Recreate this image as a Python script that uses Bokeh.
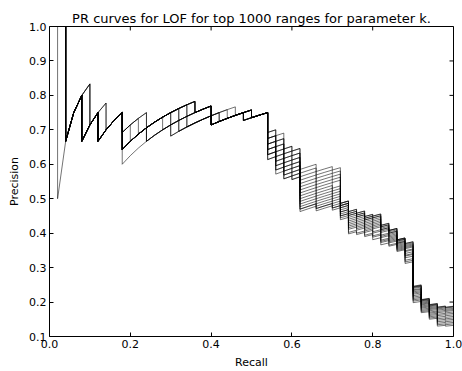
from bokeh.plotting import figure
from bokeh.models import Range1d, FixedTicker
from bokeh.embed import file_html
from bokeh.resources import INLINE

# ---------------- data ----------------
N_POS = 50  # number of true ranges (recall step = 1/50)

# cumulative false positives ranked before the k-th true positive
# early part, k = 1..9
FP_A0 = [0, 0, 1, 1, 2, 2, 3, 3, 3]
FP_A1 = [0, 0, 1, 1, 1, 2, 3, 3, 3]
FP_A2 = [0, 0, 1, 1, 2, 2, 2, 3, 3]
FP_A3 = [0, 1, 1, 1, 2, 2, 3, 3, 3]
# k = 10..18
FP_B0 = [5, 5, 5, 5, 5, 5, 5, 5, 5]
FP_B1 = [4, 4, 5, 5, 5, 5, 5, 5, 5]
FP_B2 = [4, 4, 4, 6, 6, 6, 6, 6, 6]
FP_B3 = [4, 5, 5, 5, 5, 5, 5, 5, 5]
FP_B4 = [6, 6, 6, 6, 6, 6, 6, 6, 6]
FP_B5 = [5, 5, 5, 5, 5, 5, 7, 7, 7]
FP_B6 = [5, 5, 5, 5, 5, 5, 5, 7, 7]
FP_B7 = [5, 5, 5, 5, 5, 5, 5, 5, 7]
FP_B8 = [5, 5, 5, 6, 6, 6, 6, 6, 6]
FP_B9 = [5, 5, 5, 5, 5, 6, 6, 6, 6]
# k = 19..27
FP_C0 = [6, 6, 8, 8, 8, 8, 8, 9, 9]
FP_C1 = [6, 6, 8, 8, 8, 8, 9, 9, 9]
FP_C2 = [7, 7, 7, 7, 7, 8, 8, 9, 9]
FP_C3 = [7, 7, 7, 8, 8, 8, 9, 9, 9]
FP_C4 = [7, 7, 8, 8, 8, 8, 8, 9, 9]
FP_C5 = [6, 6, 7, 7, 8, 8, 8, 9, 9]

A_PATHS = [FP_A0, FP_A1, FP_A2, FP_A3]
B_PATHS = [FP_B0, FP_B1, FP_B2, FP_B3, FP_B4, FP_B5, FP_B6, FP_B7, FP_B8, FP_B9]
C_PATHS = [FP_C0, FP_C1, FP_C2, FP_C3, FP_C4, FP_C5]

# which early path each of the 16 curves (values of k) follows
CURVE_A = [0, 0, 1, 0, 2, 0, 1, 0, 0, 3, 0, 2, 0, 1, 0, 0]
CURVE_B = [0, 1, 2, 5, 6, 0, 7, 3, 2, 4, 5, 8, 6, 9, 7, 0]
CURVE_C = [0, 1, 0, 4, 3, 1, 2, 0, 5, 1, 4, 0, 4, 1, 3, 0]

# later part, one list per k (k = 28..50), one value per curve
FP_K28 = [12, 12, 13, 13, 13, 14, 14, 14, 15, 15, 15, 16, 16, 16, 17, 17]
FP_K29 = [13, 14, 14, 15, 15, 16, 16, 17, 17, 18, 18, 19, 19, 20, 20, 21]
FP_K30 = [16, 16, 17, 17, 18, 18, 19, 19, 20, 20, 21, 21, 22, 22, 23, 23]
FP_K31 = [17, 17, 18, 18, 19, 19, 20, 20, 21, 21, 22, 22, 23, 23, 24, 24]
FP_K32 = [22, 23, 24, 25, 26, 27, 28, 29, 30, 31, 32, 33, 34, 35, 35, 36]
FP_K33 = [22, 23, 24, 25, 26, 27, 28, 29, 30, 31, 32, 33, 34, 35, 35, 36]
FP_K34 = [24, 25, 26, 27, 28, 29, 30, 31, 32, 33, 34, 35, 36, 37, 37, 38]
FP_K35 = [24, 25, 26, 27, 28, 29, 30, 31, 32, 33, 34, 35, 36, 37, 37, 38]
FP_K36 = [25, 26, 27, 28, 29, 31, 32, 33, 34, 35, 36, 37, 38, 39, 39, 40]
FP_K37 = [38, 38, 38, 39, 39, 39, 40, 40, 41, 42, 42, 43, 44, 44, 45, 46]
FP_K38 = [43, 43, 44, 44, 45, 45, 46, 47, 48, 49, 50, 51, 52, 53, 55, 56]
FP_K39 = [45, 45, 46, 46, 47, 47, 48, 49, 50, 51, 52, 53, 54, 55, 57, 58]
FP_K40 = [48, 48, 49, 49, 50, 50, 51, 52, 53, 54, 55, 56, 57, 58, 60, 61]
FP_K41 = [49, 49, 50, 50, 51, 52, 53, 54, 55, 56, 57, 59, 60, 62, 63, 65]
FP_K42 = [56, 56, 57, 57, 58, 59, 59, 60, 61, 63, 64, 65, 67, 68, 69, 71]
FP_K43 = [61, 61, 61, 62, 63, 63, 64, 65, 66, 67, 68, 69, 70, 71, 73, 74]
FP_K44 = [70, 70, 70, 71, 71, 72, 73, 73, 74, 75, 76, 77, 78, 79, 80, 81]
FP_K45 = [75, 75, 76, 77, 78, 79, 80, 82, 83, 85, 87, 88, 90, 93, 95, 97]
FP_K46 = [138, 139, 140, 141, 143, 146, 148, 151, 154, 157, 161, 165, 169, 173, 177, 182]
FP_K47 = [176, 177, 178, 180, 182, 185, 188, 191, 194, 198, 202, 206, 211, 216, 221, 226]
FP_K48 = [197, 198, 200, 202, 205, 209, 213, 217, 222, 228, 233, 239, 245, 252, 259, 266]
FP_K49 = [211, 212, 215, 219, 224, 230, 236, 244, 251, 260, 269, 278, 288, 299, 310, 321]
FP_K50 = [216, 217, 220, 225, 230, 235, 242, 249, 257, 266, 275, 284, 294, 305, 316, 328]
LATE = [FP_K28, FP_K29, FP_K30, FP_K31, FP_K32, FP_K33, FP_K34, FP_K35, FP_K36,
        FP_K37, FP_K38, FP_K39, FP_K40, FP_K41, FP_K42, FP_K43, FP_K44, FP_K45,
        FP_K46, FP_K47, FP_K48, FP_K49, FP_K50]

XTICKS = [0.0, 0.2, 0.4, 0.6, 0.8, 1.0]
XTICK_LABELS = ["0.0", "0.2", "0.4", "0.6", "0.8", "1.0"]
YTICKS = [0.1, 0.2, 0.3, 0.4, 0.5, 0.6, 0.7, 0.8, 0.9, 1.0]
YTICK_LABELS = ["0.1", "0.2", "0.3", "0.4", "0.5", "0.6", "0.7", "0.8", "0.9", "1.0"]

TITLE = "PR curves for LOF for top 1000 ranges for parameter k."

# ---------------- build PR polylines ----------------
xs, ys = [], []
for i in range(len(CURVE_A)):
    fp = A_PATHS[CURVE_A[i]] + B_PATHS[CURVE_B[i]] + C_PATHS[CURVE_C[i]] + [col[i] for col in LATE]
    x, y = [], []
    for k in range(1, N_POS + 1):
        f = fp[k - 1]
        x.append(k / N_POS)
        y.append(k / (k + f))
        if k < N_POS and fp[k] != f:
            x.append(k / N_POS)
            y.append(k / (k + fp[k]))
    xs.append(x)
    ys.append(y)

# ---------------- figure ----------------
FONT = "DejaVu Sans"
W, H = 462, 371
BL, BR, BT, BB = 49, 9, 26, 32
p = figure(width=W, height=H, output_backend="svg", toolbar_location=None,
           x_range=Range1d(0, 1), y_range=Range1d(0.1, 1.0),
           min_border_left=BL, min_border_right=BR, min_border_top=BT, min_border_bottom=BB)
p.background_fill_color = "white"
p.border_fill_color = "white"
p.outline_line_color = "black"
p.outline_line_width = 1
p.outline_line_alpha = 1
p.xgrid.visible = False
p.ygrid.visible = False

p.title.text = TITLE
p.title.align = "center"
p.title.text_font = FONT
p.title.text_font_size = "13px"
p.title.text_font_style = "normal"
p.title.text_color = "black"
p.title.standoff = 2

for ax in (p.xaxis[0], p.yaxis[0]):
    ax.axis_line_color = None
    ax.major_tick_in = 4
    ax.major_tick_out = 0
    ax.minor_tick_in = 0
    ax.minor_tick_out = 0
    ax.major_tick_line_color = "black"
    ax.major_label_text_font = FONT
    ax.major_label_text_font_size = "11px"
    ax.major_label_text_color = "black"
    ax.axis_label_text_font = FONT
    ax.axis_label_text_font_size = "11px"
    ax.axis_label_text_font_style = "normal"
    ax.axis_label_text_color = "black"
    ax.major_label_standoff = 3
    ax.axis_label_standoff = 5

p.xaxis[0].ticker = FixedTicker(ticks=XTICKS)
p.xaxis[0].major_label_overrides = dict(zip(XTICKS, XTICK_LABELS))
p.xaxis[0].axis_label = "Recall"
p.yaxis[0].ticker = FixedTicker(ticks=YTICKS)
p.yaxis[0].major_label_overrides = dict(zip(YTICKS, YTICK_LABELS))
p.yaxis[0].axis_label = "Precision"

# inward tick marks on the top and right spines (4 px long)
frame_w = W - BL - BR
frame_h = H - BT - BB
tick_dx = 4 / frame_w * 1.0
tick_dy = 4 / frame_h * 0.9
p.segment(x0=XTICKS, y0=[1.0] * len(XTICKS), x1=XTICKS, y1=[1.0 - tick_dy] * len(XTICKS),
          line_color="black", line_width=1)
p.segment(x0=[1.0] * len(YTICKS), y0=YTICKS, x1=[1.0 - tick_dx] * len(YTICKS), y1=YTICKS,
          line_color="black", line_width=1)

p.multi_line(xs, ys, line_color="black", line_alpha=0.55, line_width=1)

open("out.html", "w").write(file_html(p, INLINE))
